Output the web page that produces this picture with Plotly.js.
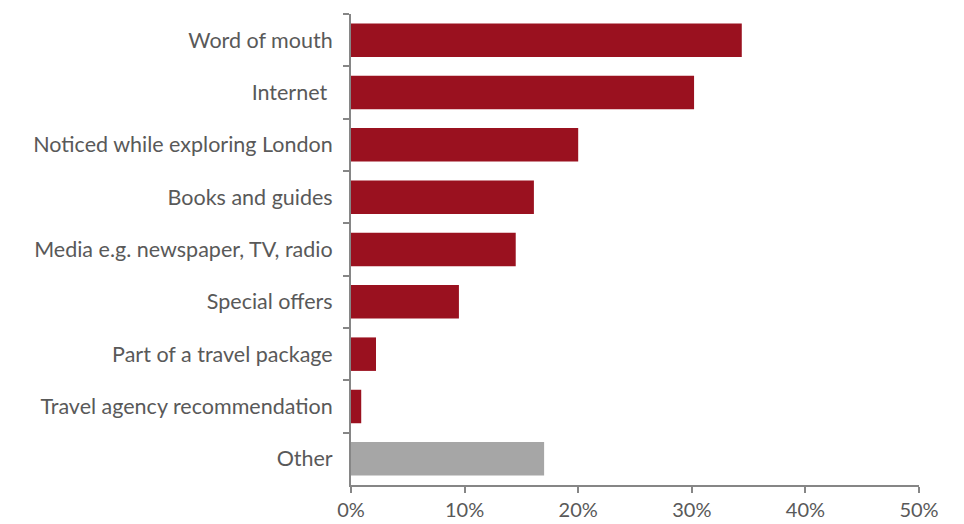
<!DOCTYPE html>
<html><head><meta charset="utf-8">
<script src="https://cdn.plot.ly/plotly-3.0.1.min.js"></script>
<style>html,body{margin:0;padding:0;background:#fff}</style>
</head><body>
<div id="chart" style="width:964px;height:524px"></div>
<script>
const categories = ["Word of mouth","Internet ","Noticed while exploring London","Books and guides","Media e.g. newspaper, TV, radio","Special offers","Part of a travel package","Travel agency recommendation","Other"];
const values = [0.344, 0.302, 0.200, 0.161, 0.145, 0.095, 0.022, 0.009, 0.170];
const barColors = ["#9A111F","#9A111F","#9A111F","#9A111F","#9A111F","#9A111F","#9A111F","#9A111F","#A6A6A6"];
const xTicks = [0, 0.1, 0.2, 0.3, 0.4, 0.5];

Plotly.newPlot("chart", [{
  type: "bar",
  orientation: "h",
  y: categories,
  x: values,
  marker: {color: barColors},
  hoverinfo: "skip"
}], {
  width: 964, height: 524,
  margin: {l: 351, r: 45, t: 14, b: 39},
  paper_bgcolor: "#fff", plot_bgcolor: "#fff",
  bargap: 0.36,
  showlegend: false,
  font: {family: "Lato, 'Open Sans', sans-serif", size: 21.5, color: "#595959"},
  xaxis: {
    range: [0, 0.5], tickvals: xTicks, tickformat: ".0%",
    showgrid: false, zeroline: false,
    showline: true, linecolor: "#868686", linewidth: 2,
    ticks: "outside", ticklen: 6, tickcolor: "#868686", tickwidth: 2,
    tickfont: {size: 20}
  },
  yaxis: {
    type: "category", autorange: "reversed",
    showgrid: false, zeroline: false,
    showline: true, linecolor: "#868686", linewidth: 2,
    ticks: "outside", tickson: "boundaries", ticklen: 6, tickcolor: "#868686", tickwidth: 2,
    ticklabelstandoff: 12
  }
}, {displayModeBar: false, staticPlot: true});
</script>
</body></html>
